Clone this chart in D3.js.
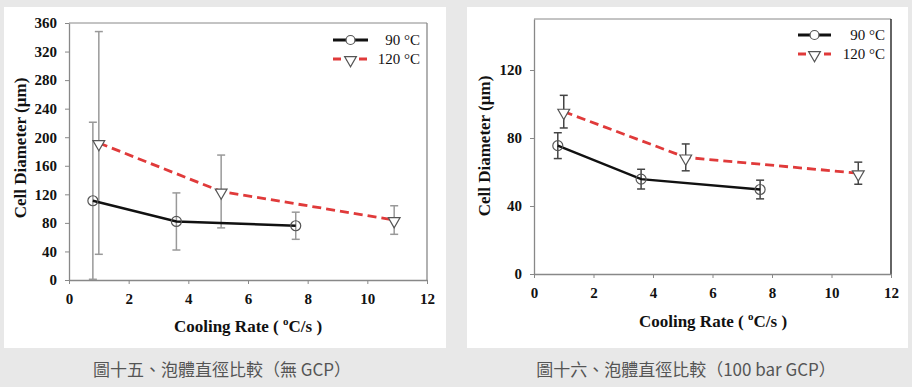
<!DOCTYPE html>
<html>
<head>
<meta charset="utf-8">
<title>Cell Diameter vs Cooling Rate</title>
<style>
  body { margin: 0; padding: 0; background-color: #e8e8e8; }
  svg { display: block; }
</style>
</head>
<body>
<svg id="chart" width="912" height="387"></svg>
<script src="https://d3js.org/d3.v7.min.js"></script>
<script>
// shared axis ticks
const xTicks = [0, 2, 4, 6, 8, 10, 12];
const seriesNames = ["90 °C", "120 °C"];

// left figure: no GCP
const leftYTicks = [0, 40, 80, 120, 160, 200, 240, 280, 320, 360];
const leftRate90 = [0.8, 3.6, 7.6];
const leftDiam90 = [111, 82, 76];
const leftErr90 = [110, 40, 19];
const leftRate120 = [1.0, 5.1, 10.9];
const leftDiam120 = [192, 124, 84];
const leftErr120 = [156, 51, 20];

// right figure: 100 bar GCP
const rightYTicks = [0, 40, 80, 120];
const rightRate90 = [0.8, 3.6, 7.6];
const rightDiam90 = [75.5, 55.8, 49.7];
const rightErr90 = [7.6, 5.8, 5.5];
const rightRate120 = [1.0, 5.1, 10.9];
const rightDiam120 = [95.5, 68.6, 59.3];
const rightErr120 = [9.6, 7.9, 6.5];

const captions = ["圖十五、泡體直徑比較（無 GCP）", "圖十六、泡體直徑比較（100 bar GCP）"];

const SERIF = '"Liberation Serif", "Times New Roman", serif';

const svg = d3.select("#chart");

// build point lists
function toPoints(rate, diam, err) {
  return rate.map((r, i) => ({ x: r, y: diam[i], e: err[i] }));
}

function drawPanel(cfg) {
  const g = svg.append("g");

  // white card
  g.append("rect")
    .attr("x", cfg.card[0]).attr("y", cfg.card[1])
    .attr("width", cfg.card[2]).attr("height", cfg.card[3])
    .attr("fill", "#fff");

  const x = d3.scaleLinear().domain([0, 12]).range([cfg.plot.left, cfg.plot.right]);
  const y = d3.scaleLinear().domain([0, cfg.yMax]).range([cfg.plot.bottom, cfg.plot.top]);

  // plot frame (top and right)
  g.append("line")
    .attr("x1", cfg.plot.left).attr("x2", cfg.plot.right)
    .attr("y1", cfg.plot.top).attr("y2", cfg.plot.top)
    .attr("stroke", "#888").attr("stroke-width", 1);
  g.append("line")
    .attr("x1", cfg.plot.right).attr("x2", cfg.plot.right)
    .attr("y1", cfg.plot.top).attr("y2", cfg.plot.bottom)
    .attr("stroke", cfg.rightFrame).attr("stroke-width", 1.3);

  // axes
  const xAxis = g.append("g")
    .attr("transform", `translate(0,${cfg.plot.bottom})`)
    .call(d3.axisBottom(x).tickValues(xTicks).tickSizeInner(4).tickSizeOuter(0).tickPadding(9));
  const yAxis = g.append("g")
    .attr("transform", `translate(${cfg.plot.left},0)`)
    .call(d3.axisLeft(y).tickValues(cfg.yTicks).tickSizeInner(4).tickSizeOuter(0).tickPadding(8));
  [xAxis, yAxis].forEach(a => {
    a.select(".domain").attr("stroke", "#888").attr("stroke-width", 1.3);
    a.selectAll(".tick line").attr("stroke", "#888");
    a.selectAll(".tick text")
      .style("font-family", SERIF).style("font-weight", "bold")
      .style("font-size", "15px").attr("fill", "#111");
  });

  // axis titles
  g.append("text")
    .style("font-family", SERIF).style("font-weight", "bold").style("font-size", "17px")
    .attr("fill", "#111")
    .attr("transform", `translate(${cfg.yTitle[0]},${cfg.yTitle[1]}) rotate(-90)`)
    .attr("text-anchor", "middle")
    .text("Cell Diameter (µm)");
  const xt = g.append("text")
    .style("font-family", SERIF).style("font-weight", "bold").style("font-size", "17px")
    .attr("fill", "#111")
    .attr("x", cfg.xTitle[0]).attr("y", cfg.xTitle[1])
    .attr("text-anchor", "middle");
  xt.append("tspan").text("Cooling Rate ( ");
  xt.append("tspan").style("font-size", "11px").attr("dy", -7).text("o");
  xt.append("tspan").attr("dy", 7).text("C/s )");

  const s90 = toPoints(cfg.rate90, cfg.diam90, cfg.err90);
  const s120 = toPoints(cfg.rate120, cfg.diam120, cfg.err120);

  // error bars
  function errorBars(data, color) {
    const eb = g.append("g").attr("stroke", color).attr("stroke-width", 1.5);
    eb.selectAll("line.v").data(data).join("line")
      .attr("x1", d => x(d.x)).attr("x2", d => x(d.x))
      .attr("y1", d => y(Math.max(0, d.y - d.e))).attr("y2", d => y(d.y + d.e));
    eb.selectAll("line.t").data(data).join("line")
      .attr("x1", d => x(d.x) - 4).attr("x2", d => x(d.x) + 4)
      .attr("y1", d => y(d.y + d.e)).attr("y2", d => y(d.y + d.e));
    eb.selectAll("line.b").data(data).join("line")
      .attr("x1", d => x(d.x) - 4).attr("x2", d => x(d.x) + 4)
      .attr("y1", d => y(Math.max(0, d.y - d.e))).attr("y2", d => y(Math.max(0, d.y - d.e)));
  }
  errorBars(s90, cfg.errColor);
  errorBars(s120, cfg.errColor);

  const line = d3.line().x(d => x(d.x)).y(d => y(d.y));

  // 120 °C dashed red
  g.append("path").datum(s120)
    .attr("d", line)
    .attr("fill", "none").attr("stroke", "#e03a3a")
    .attr("stroke-width", 2.8).attr("stroke-dasharray", "9,5");
  // 90 °C solid black
  g.append("path").datum(s90)
    .attr("d", line)
    .attr("fill", "none").attr("stroke", "#111")
    .attr("stroke-width", 2.4);

  const tri = d3.symbol().type(d3.symbolTriangle).size(60);
  g.selectAll("path.m120").data(s120).join("path")
    .attr("d", tri)
    .attr("transform", d => `translate(${x(d.x)},${y(d.y) + 1}) rotate(180)`)
    .attr("fill", "#fff").attr("stroke", "#555").attr("stroke-width", 1.2);
  g.selectAll("circle.m90").data(s90).join("circle")
    .attr("cx", d => x(d.x)).attr("cy", d => y(d.y)).attr("r", 5)
    .attr("fill", "none").attr("stroke", "#555").attr("stroke-width", 1.2);

  // legend
  const lg = g.append("g");
  const lx0 = cfg.legend[0], lx1 = cfg.legend[1], ly = cfg.legend[2], tx = cfg.legend[3];
  lg.append("line").attr("x1", lx0).attr("x2", lx1).attr("y1", ly).attr("y2", ly)
    .attr("stroke", "#111").attr("stroke-width", 2.8);
  lg.append("circle").attr("cx", (lx0 + lx1) / 2).attr("cy", ly).attr("r", 4.5)
    .attr("fill", "#fff").attr("stroke", "#555").attr("stroke-width", 1.2);
  lg.append("line").attr("x1", lx0).attr("x2", lx1).attr("y1", ly + 19).attr("y2", ly + 19)
    .attr("stroke", "#e03a3a").attr("stroke-width", 2.8).attr("stroke-dasharray", "8,5");
  lg.append("path").attr("d", tri)
    .attr("transform", `translate(${(lx0 + lx1) / 2},${ly + 20}) rotate(180)`)
    .attr("fill", "#fff").attr("stroke", "#555").attr("stroke-width", 1.2);
  seriesNames.forEach((n, i) => {
    lg.append("text")
      .style("font-family", SERIF).style("font-size", "15px").attr("fill", "#111")
      .attr("x", tx).attr("y", ly + 5 + i * 19)
      .attr("text-anchor", "end").text(n);
  });

  // caption below card
  svg.append("text")
    .style("font-family", '"Noto Sans CJK TC", "Noto Sans", sans-serif')
    .style("font-size", "17px").attr("fill", "#555")
    .attr("x", cfg.caption[0]).attr("y", cfg.caption[1])
    .attr("text-anchor", "middle").text(cfg.captionText);
}

drawPanel({
  card: [4, 7, 442, 341],
  plot: { left: 69, right: 427, top: 23, bottom: 280 },
  yMax: 360, yTicks: leftYTicks,
  rate90: leftRate90, diam90: leftDiam90, err90: leftErr90,
  rate120: leftRate120, diam120: leftDiam120, err120: leftErr120,
  errColor: "#999", rightFrame: "#888",
  yTitle: [26, 148], xTitle: [248, 332],
  legend: [333, 368, 40, 420],
  caption: [222, 376], captionText: captions[0]
});

drawPanel({
  card: [467, 7, 441, 341],
  plot: { left: 534, right: 891, top: 19, bottom: 274 },
  yMax: 150, yTicks: rightYTicks,
  rate90: rightRate90, diam90: rightDiam90, err90: rightErr90,
  rate120: rightRate120, diam120: rightDiam120, err120: rightErr120,
  errColor: "#444", rightFrame: "#111",
  yTitle: [490, 146], xTitle: [713, 327],
  legend: [798, 831, 35, 885],
  caption: [686, 376], captionText: captions[1]
});
</script>
</body>
</html>
